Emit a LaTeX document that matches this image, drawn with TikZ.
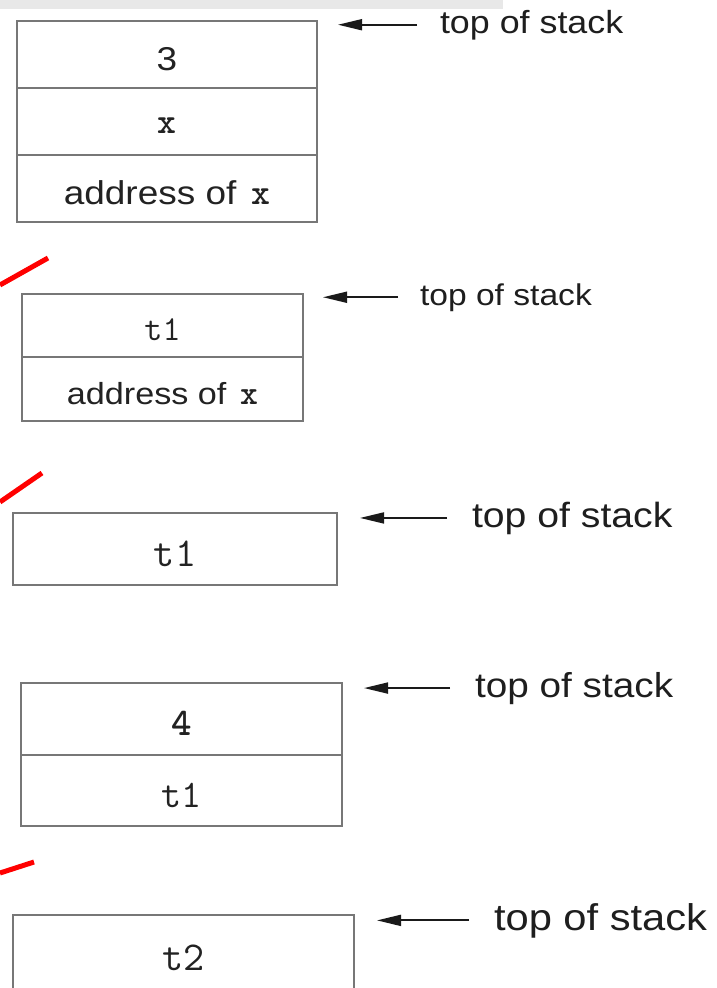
\documentclass[tikz,border=0pt]{standalone}
\usepackage{fontspec}
\setmainfont{Liberation Sans}[FakeStretch=1.12]
\newcommand\monof{\ttfamily}
\usetikzlibrary{arrows.meta}
\definecolor{boxgray}{HTML}{777777}
\definecolor{txtc}{HTML}{222222}
\definecolor{labc}{HTML}{1E1E1E}
\definecolor{arrc}{HTML}{1A1A1A}
\definecolor{barc}{HTML}{E8E8E8}
\newcommand\fsz[1]{\fontsize{#1}{#1}\selectfont}
\newcommand\dn[1]{\raisebox{-4.5pt}[\height][\depth]{#1}}
\tikzset{
  cell/.style={draw=boxgray, line width=2.2pt, rectangle, inner sep=0pt, outer sep=0pt, text=txtc, anchor=center},
  lab/.style={anchor=base west, inner sep=0pt, outer sep=0pt, text=labc},
  arr/.style={draw=arrc, line width=1.8pt, -{Triangle[length=24pt,width=11pt]}},
  redln/.style={draw=red, line width=5pt},
}
\begin{document}
\begin{tikzpicture}[x=1pt,y=-1pt]
\useasboundingbox (0,0) rectangle (717,988);
\clip (0,0) rectangle (717,988);
\fill[barc] (0,0) rectangle (503,8.5);

% stack 1
\node[cell, minimum width=300pt, minimum height=67pt, font=\fsz{33}] (s1a) at (167,54.5) {\dn{3}};
\node[cell, minimum width=300pt, minimum height=67pt, font=\monof\bfseries\fsz{36}] (s1b) at (167,121.5) {\dn{x}};
\node[cell, minimum width=300pt, minimum height=67pt, font=\fsz{33}] (s1c) at (167,188.5) {\dn{address of\hspace{0.45em}{\monof\bfseries\fsz{36}x}}};
\node[lab, font=\fsz{32}] (L1) at (440,33) {top of stack};
\draw[arr, shorten <=23pt, shorten >=21pt] (L1.west) -- (L1.west -| s1a.east);

\draw[redln] (0,285) -- (48,258);

% stack 2
\node[cell, minimum width=281pt, minimum height=63pt, font=\monof\fsz{35}] (s2a) at (162.5,325.5) {\dn{t1}};
\node[cell, minimum width=281pt, minimum height=64pt, font=\fsz{30.5}] (s2b) at (162.5,389) {\dn{address of\hspace{0.45em}{\monof\bfseries\fsz{34}x}}};
\node[lab, font=\fsz{30}] (L2) at (420,305) {top of stack};
\draw[arr, shorten <=22pt, shorten >=20pt] (L2.west) -- (L2.west -| s2a.east);

\draw[redln] (0,502) -- (42,473);

% stack 3
\node[cell, minimum width=324pt, minimum height=72pt, font=\monof\fsz{41}] (s3a) at (175,549) {\dn{t1}};
\node[lab, font=\fsz{35}] (L3) at (472,527) {top of stack};
\draw[arr, shorten <=25pt, shorten >=23pt] (L3.west) -- (L3.west -| s3a.east);

% stack 4
\node[cell, minimum width=321pt, minimum height=72pt, font=\monof\bfseries\fsz{39}] (s4a) at (181.5,719) {\dn{4}};
\node[cell, minimum width=321pt, minimum height=71pt, font=\monof\fsz{39}] (s4b) at (181.5,790.5) {\dn{t1}};
\node[lab, font=\fsz{34.6}] (L4) at (475,697) {top of stack};
\draw[arr, shorten <=25pt, shorten >=22pt] (L4.west) -- (L4.west -| s4a.east);

\draw[redln] (0,873) -- (34,862);

% stack 5
\node[cell, minimum width=341pt, minimum height=85pt, font=\monof\fsz{41}] (s5a) at (183.5,957.5) {t2};
\node[lab, font=\fsz{37.2}] (L5) at (494,930) {top of stack};
\draw[arr, shorten <=25pt, shorten >=23pt] (L5.west) -- (L5.west -| s5a.east);
\end{tikzpicture}
\end{document}
